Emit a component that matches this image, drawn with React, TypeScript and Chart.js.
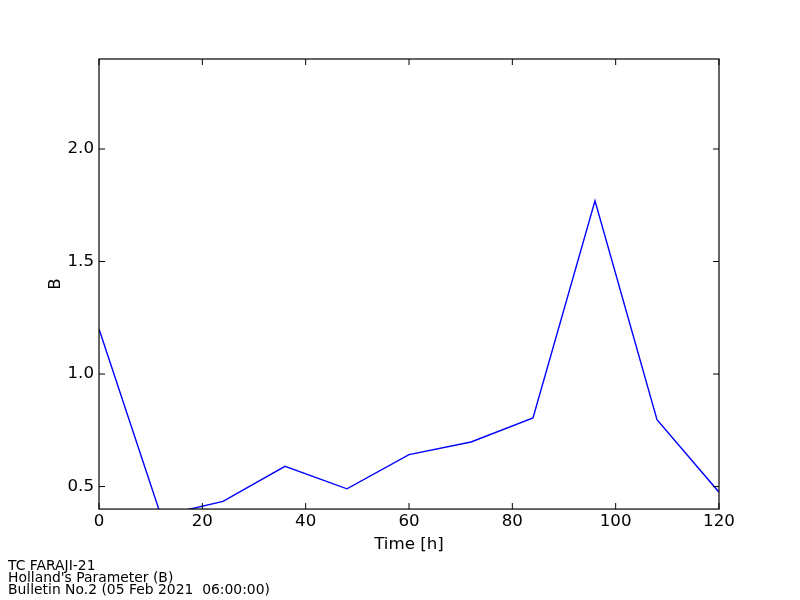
import { useEffect, useRef } from "react";
import { Chart, registerables } from "chart.js";

Chart.register(...registerables);

const hours = [0, 12, 24, 36, 48, 60, 72, 84, 96, 108, 120];
const hollandB = [1.2, 0.37, 0.434, 0.59, 0.49, 0.642, 0.698, 0.805, 1.77, 0.797, 0.475];
const xTicks = [0, 20, 40, 60, 80, 100, 120];
const yTicks = [0.5, 1.0, 1.5, 2.0];
const footerLines = [
  "TC FARAJI-21",
  "Holland's Parameter (B)",
  "Bulletin No.2 (05 Feb 2021  06:00:00)",
];
const xLabel = "Time [h]";
const yLabel = "B";

const FONT = "'DejaVu Sans', sans-serif";

const framePlugin = {
  id: "mplFrame",
  afterDraw(chart: any) {
    const { ctx, chartArea, scales } = chart;
    const { left, right, top, bottom } = chartArea;
    const x = scales.x;
    const y = scales.y;
    ctx.save();
    ctx.strokeStyle = "#000000";
    ctx.lineWidth = 1.2;
    ctx.strokeRect(left, top, right - left, bottom - top);
    ctx.beginPath();
    const len = 6;
    for (const v of xTicks) {
      const px = x.getPixelForValue(v);
      ctx.moveTo(px, bottom);
      ctx.lineTo(px, bottom - len);
      ctx.moveTo(px, top);
      ctx.lineTo(px, top + len);
    }
    for (const v of yTicks) {
      const py = y.getPixelForValue(v);
      ctx.moveTo(left, py);
      ctx.lineTo(left + len, py);
      ctx.moveTo(right, py);
      ctx.lineTo(right - len, py);
    }
    ctx.lineWidth = 1;
    ctx.stroke();
    ctx.restore();
  },
};

export default function App() {
  const ref = useRef<HTMLCanvasElement | null>(null);

  useEffect(() => {
    if (!ref.current) return;
    const chart = new Chart(ref.current, {
      type: "line",
      data: {
        datasets: [
          {
            data: hours.map((h, i) => ({ x: h, y: hollandB[i] })),
            borderColor: "#0000ff",
            borderWidth: 1.4,
            pointRadius: 0,
            fill: false,
            tension: 0,
          },
        ],
      },
      options: {
        animation: false,
        responsive: false,
        layout: { padding: { left: 8, right: 81, top: 59, bottom: 4 } },
        plugins: {
          legend: { display: false },
          tooltip: { enabled: false },
          title: {
            display: true,
            position: "bottom",
            align: "start",
            fullSize: true,
            text: footerLines,
            color: "#000000",
            font: { family: FONT, size: 13.9, weight: "normal", lineHeight: 0.85 },
            padding: { top: 0, bottom: 0 },
          },
        },
        scales: {
          x: {
            type: "linear",
            min: 0,
            max: 120,
            grid: { display: false, drawTicks: false },
            border: { display: false },
            afterBuildTicks: (scale: any) => {
              scale.ticks = xTicks.map((v) => ({ value: v }));
            },
            afterFit: (scale: any) => {
              scale.height = 51.5;
            },
            ticks: {
              color: "#000000",
              font: { family: FONT, size: 16.67 },
              padding: 3,
              maxRotation: 0,
              callback: (v: any) => String(v),
            },
            title: {
              display: true,
              text: xLabel,
              color: "#000000",
              font: { family: FONT, size: 16.67 },
              padding: { top: 0, bottom: 6 },
            },
          },
          y: {
            type: "linear",
            min: 0.4,
            max: 2.4,
            grid: { display: false, drawTicks: false },
            border: { display: false },
            afterBuildTicks: (scale: any) => {
              scale.ticks = yTicks.map((v) => ({ value: v }));
            },
            afterFit: (scale: any) => {
              scale.width = 91;
            },
            ticks: {
              color: "#000000",
              font: { family: FONT, size: 16.67 },
              padding: 5,
              callback: (v: any) => Number(v).toFixed(1),
            },
            title: {
              display: true,
              text: yLabel,
              color: "#000000",
              font: { family: FONT, size: 16.67 },
              padding: { top: 38, bottom: 0 },
            },
          },
        },
      },
      plugins: [framePlugin],
    });
    return () => chart.destroy();
  }, []);

  return (
    <div style={{ position: "fixed", left: 0, top: 0, width: 800, height: 600, background: "#ffffff" }}>
      <canvas ref={ref} width={800} height={600} />
    </div>
  );
}
